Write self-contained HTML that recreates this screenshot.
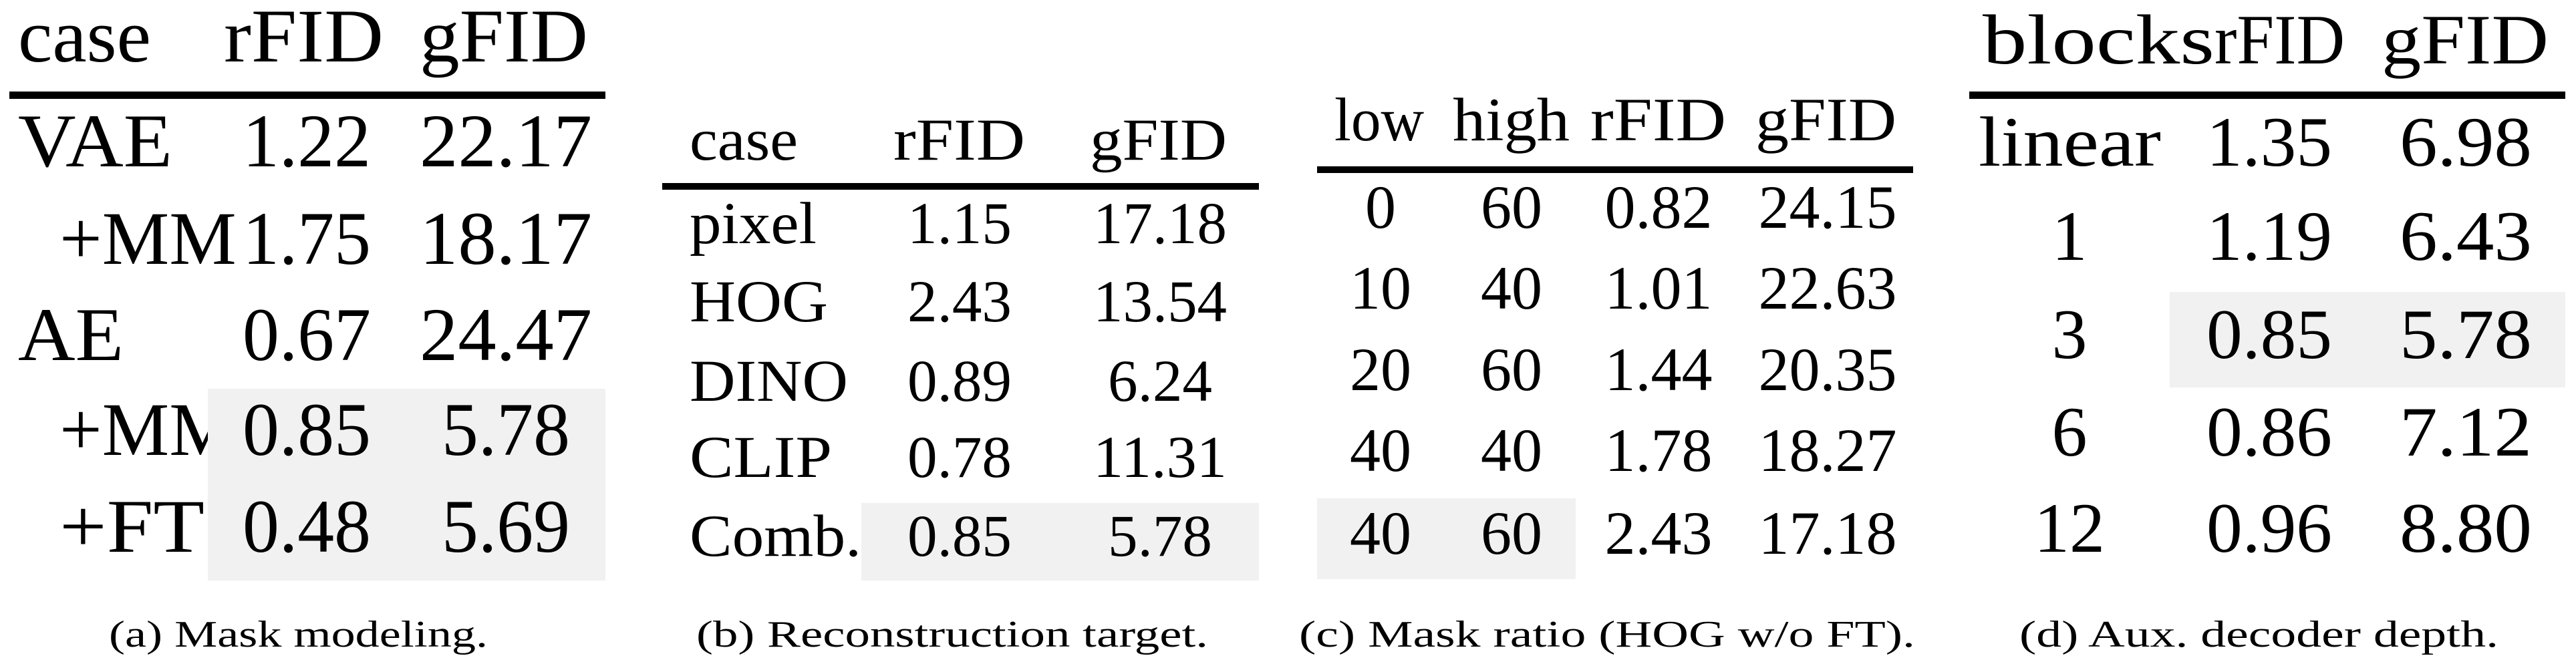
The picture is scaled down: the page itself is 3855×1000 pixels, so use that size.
<!DOCTYPE html>
<html><head><meta charset="utf-8"><style>
html,body{margin:0;padding:0;background:#fff}
svg{display:block}
svg, svg text{font-family:"Liberation Serif","Times New Roman","DejaVu Serif",serif !important;fill:#000}
</style></head><body>
<svg width="3855" height="1000" viewBox="0 0 3855 1000" xmlns="http://www.w3.org/2000/svg" font-family="Liberation Serif, Times New Roman, DejaVu Serif, serif">
<!-- (a) -->
<g font-size="113">
<text x="27" y="92" textLength="199" lengthAdjust="spacingAndGlyphs">case</text>
<text x="335" y="92" textLength="239" lengthAdjust="spacingAndGlyphs">rFID</text>
<text x="628" y="92" textLength="252" lengthAdjust="spacingAndGlyphs">gFID</text>
<rect x="14" y="137" width="892" height="11"/>
<text x="27" y="249" textLength="231" lengthAdjust="spacingAndGlyphs">VAE</text>
<text x="89" y="395">+MM</text>
<text x="27" y="539" textLength="158" lengthAdjust="spacingAndGlyphs">AE</text>
<text x="89" y="681">+MM</text>
<text x="89" y="826" textLength="217" lengthAdjust="spacingAndGlyphs">+FT</text>
<rect x="311" y="582" width="595" height="287" fill="#f1f1f1"/>
<g text-anchor="middle">
<text x="459" y="249" textLength="192" lengthAdjust="spacingAndGlyphs">1.22</text>
<text x="757" y="249" textLength="258" lengthAdjust="spacingAndGlyphs">22.17</text>
<text x="459" y="395" textLength="192" lengthAdjust="spacingAndGlyphs">1.75</text>
<text x="757" y="395" textLength="258" lengthAdjust="spacingAndGlyphs">18.17</text>
<text x="459" y="539" textLength="192" lengthAdjust="spacingAndGlyphs">0.67</text>
<text x="757" y="539" textLength="258" lengthAdjust="spacingAndGlyphs">24.47</text>
<text x="459" y="681" textLength="192" lengthAdjust="spacingAndGlyphs">0.85</text>
<text x="757" y="681" textLength="192" lengthAdjust="spacingAndGlyphs">5.78</text>
<text x="459" y="826" textLength="192" lengthAdjust="spacingAndGlyphs">0.48</text>
<text x="757" y="826" textLength="192" lengthAdjust="spacingAndGlyphs">5.69</text>
</g></g>
<!-- (b) -->
<g font-size="89">
<text x="1032" y="239" textLength="162" lengthAdjust="spacingAndGlyphs">case</text>
<text x="1337" y="239" textLength="197" lengthAdjust="spacingAndGlyphs">rFID</text>
<text x="1631" y="239" textLength="205" lengthAdjust="spacingAndGlyphs">gFID</text>
<rect x="991" y="274" width="893" height="10"/>
<rect x="1289" y="753" width="595" height="116" fill="#f1f1f1"/>
<text x="1032" y="364" textLength="190" lengthAdjust="spacingAndGlyphs">pixel</text>
<text x="1032" y="481" textLength="207" lengthAdjust="spacingAndGlyphs">HOG</text>
<text x="1032" y="600" textLength="237" lengthAdjust="spacingAndGlyphs">DINO</text>
<text x="1032" y="714" textLength="213" lengthAdjust="spacingAndGlyphs">CLIP</text>
<text x="1032" y="832" textLength="257" lengthAdjust="spacingAndGlyphs">Comb.</text>
<g text-anchor="middle">
<text x="1436" y="364" textLength="156" lengthAdjust="spacingAndGlyphs">1.15</text><text x="1736" y="364" textLength="200" lengthAdjust="spacingAndGlyphs">17.18</text>
<text x="1436" y="481" textLength="156" lengthAdjust="spacingAndGlyphs">2.43</text><text x="1736" y="481" textLength="200" lengthAdjust="spacingAndGlyphs">13.54</text>
<text x="1436" y="600" textLength="156" lengthAdjust="spacingAndGlyphs">0.89</text><text x="1736" y="600" textLength="156" lengthAdjust="spacingAndGlyphs">6.24</text>
<text x="1436" y="714" textLength="156" lengthAdjust="spacingAndGlyphs">0.78</text><text x="1736" y="714" textLength="200" lengthAdjust="spacingAndGlyphs">11.31</text>
<text x="1436" y="832" textLength="156" lengthAdjust="spacingAndGlyphs">0.85</text><text x="1736" y="832" textLength="156" lengthAdjust="spacingAndGlyphs">5.78</text>
</g></g>
<!-- (c) -->
<g font-size="92">
<text x="1997" y="210" textLength="134" lengthAdjust="spacingAndGlyphs">low</text>
<text x="2174" y="210" textLength="175" lengthAdjust="spacingAndGlyphs">high</text>
<text x="2380" y="210" textLength="203" lengthAdjust="spacingAndGlyphs">rFID</text>
<text x="2627" y="210" textLength="211" lengthAdjust="spacingAndGlyphs">gFID</text>
<rect x="1971" y="249" width="892" height="10"/>
<rect x="1971" y="746" width="387" height="121" fill="#f1f1f1"/>
<g text-anchor="middle">
<text x="2066" y="341">0</text><text x="2262" y="341">60</text><text x="2482" y="341">0.82</text><text x="2735" y="341">24.15</text>
<text x="2066" y="462">10</text><text x="2262" y="462">40</text><text x="2482" y="462">1.01</text><text x="2735" y="462">22.63</text>
<text x="2066" y="584">20</text><text x="2262" y="584">60</text><text x="2482" y="584">1.44</text><text x="2735" y="584">20.35</text>
<text x="2066" y="705">40</text><text x="2262" y="705">40</text><text x="2482" y="705">1.78</text><text x="2735" y="705">18.27</text>
<text x="2066" y="829">40</text><text x="2262" y="829">60</text><text x="2482" y="829">2.43</text><text x="2735" y="829">17.18</text>
</g></g>
<!-- (d) -->
<g font-size="106">
<text x="2967" y="95" textLength="347" lengthAdjust="spacingAndGlyphs">blocks</text>
<text x="3314" y="95" textLength="195" lengthAdjust="spacingAndGlyphs">rFID</text>
<text x="3564" y="95" textLength="250" lengthAdjust="spacingAndGlyphs">gFID</text>
<rect x="2947" y="137" width="892" height="11"/>
<rect x="3247" y="437" width="592" height="143" fill="#f1f1f1"/>
<text x="2961" y="248" textLength="273" lengthAdjust="spacingAndGlyphs">linear</text>
<g text-anchor="middle">
<text x="3396" y="248" textLength="188" lengthAdjust="spacingAndGlyphs">1.35</text><text x="3690" y="248" textLength="198" lengthAdjust="spacingAndGlyphs">6.98</text>
<text x="3097" y="389">1</text><text x="3396" y="389" textLength="188" lengthAdjust="spacingAndGlyphs">1.19</text><text x="3690" y="389" textLength="198" lengthAdjust="spacingAndGlyphs">6.43</text>
<text x="3097" y="536">3</text><text x="3396" y="536" textLength="188" lengthAdjust="spacingAndGlyphs">0.85</text><text x="3690" y="536" textLength="198" lengthAdjust="spacingAndGlyphs">5.78</text>
<text x="3097" y="682">6</text><text x="3396" y="682" textLength="188" lengthAdjust="spacingAndGlyphs">0.86</text><text x="3690" y="682" textLength="198" lengthAdjust="spacingAndGlyphs">7.12</text>
<text x="3097" y="826">12</text><text x="3396" y="826" textLength="188" lengthAdjust="spacingAndGlyphs">0.96</text><text x="3690" y="826" textLength="198" lengthAdjust="spacingAndGlyphs">8.80</text>
</g></g>
<!-- captions -->
<g font-size="56">
<text x="163" y="968" textLength="567" lengthAdjust="spacingAndGlyphs">(a) Mask modeling.</text>
<text x="1042" y="968" textLength="766" lengthAdjust="spacingAndGlyphs">(b) Reconstruction target.</text>
<text x="1944" y="968" textLength="922" lengthAdjust="spacingAndGlyphs">(c) Mask ratio (HOG w/o FT).</text>
<text x="3022" y="968" textLength="717" lengthAdjust="spacingAndGlyphs">(d) Aux. decoder depth.</text>
</g>
</svg>
</body></html>
